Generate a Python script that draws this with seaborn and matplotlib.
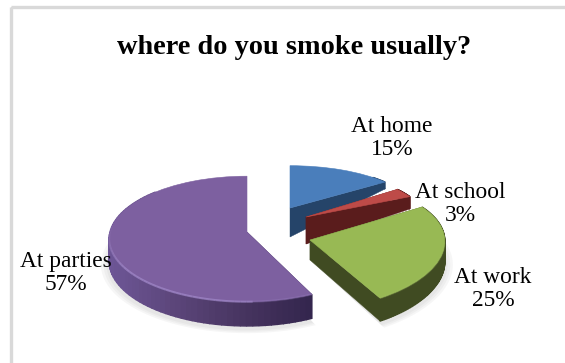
import numpy as np
import matplotlib
matplotlib.use("Agg")
import matplotlib.pyplot as plt
from matplotlib.patches import Rectangle
from matplotlib.transforms import Transform
import seaborn as sns

places = ["At home", "At school", "At work", "At parties"]
shares = [15, 3, 25, 57]
title_text = "where do you smoke usually?"

top_colors = ["#4a7ebb", "#be4b48", "#98b954", "#7d60a0"]
cut_colors = ["#254469", "#5a1c1c", "#404b22", "#33254d"]
rim_ramps = [
    ["#254469", "#254469"],
    ["#5a1c1c", "#5a1c1c"],
    ["#404b22", "#404b22"],
    ["#6d5696", "#5b4579", "#46345f", "#33254d"],
]
lip_colors = ["#5f8fc8", "#d06a66", "#a9c76c", "#a78fd0"]

# Placement of each slice on the page, in pixels.
slice_layout = [
    dict(apex=(290, 208), rx=125, ry=47, tilt=0, skew=0, depth=29, slope=-40),
    dict(apex=(306, 217), rx=120, ry=50, tilt=0, skew=0, depth=27, slope=-36),
    dict(apex=(310, 240), rx=133, ry=62, tilt=-9, skew=-7, depth=20, slope=-3),
    dict(apex=(247, 232), rx=137, ry=62, tilt=0, skew=0, depth=22, slope=-2),
]
label_spots = [(392, 138), (460, 204), (493, 289), (66, 273)]
PERSPECTIVE = 0.111


def project(x, y, apex, rx, ry, tilt, skew, **_):
    """Map the flat unit pie onto the receding top face of the solid."""
    s = 1 / (1 + PERSPECTIVE * y)
    px, py = x * s, y * s
    return apex[0] + rx * px + skew * py, apex[1] + tilt * px - ry * py


def face_depth(x, y, depth, slope, **_):
    s = 1 / (1 + PERSPECTIVE * y)
    return np.maximum(depth + slope * y * s, 0)


class TopFace(Transform):
    input_dims = output_dims = 2
    is_separable = False
    has_inverse = False

    def __init__(self, layout):
        super().__init__()
        self.layout = layout

    def transform_non_affine(self, values):
        values = np.asarray(values)
        px, py = project(values[:, 0], values[:, 1], **self.layout)
        return np.column_stack([px, py])


sns.set_theme(style="white")
plt.rcParams["font.family"] = ["Liberation Serif", "DejaVu Serif"]

fig = plt.figure(figsize=(5.65, 3.63), dpi=100, facecolor="white")
ax = fig.add_axes([0, 0, 1, 1])

wedges, _ = ax.pie(shares, startangle=90, counterclock=False, colors=top_colors)
ax.set_aspect("auto")
ax.set_xlim(0, 565)
ax.set_ylim(363, 0)
ax.axis("off")

# Page frame along the top and left.
ax.add_patch(Rectangle((11, 7), 600, 500, fill=False, ec="#d9d9d9", lw=2.4, zorder=0))

order = 0
for wedge, layout in zip(wedges, slice_layout):
    t1, t2 = sorted((wedge.theta1, wedge.theta2))
    angles = np.radians(np.linspace(t1, t2, 90))
    ux, uy = np.cos(angles), np.sin(angles)
    rx_screen, ry_screen = project(ux, uy, **layout)
    drop = face_depth(ux, uy, **layout)
    i = wedges.index(wedge)

    # Soft shadow on the page beneath the two large slices.
    if i >= 2:
        cx, cy = layout["apex"]
        for grow in (9, 6, 3):
            sx = cx + (rx_screen - cx) * (1 + grow / 150)
            sy = cy + (ry_screen - cy) * (1 + grow / 150) + drop + 3
            ax.fill(np.r_[cx, sx], np.r_[cy + layout["depth"], sy],
                    color="#8a8a8a", alpha=0.07, lw=0, zorder=1)

    order += 2
    ax0, ay0 = layout["apex"]
    apex_drop = layout["depth"]

    # Cut faces running in from the rim to the centre; a cut pointing straight
    # back is hidden behind the top face.
    for k in (0, -1):
        if uy[k] > 0.95:
            continue
        ax.fill([ax0, rx_screen[k], rx_screen[k], ax0],
                [ay0, ry_screen[k], ry_screen[k] + drop[k], ay0 + apex_drop],
                color=cut_colors[i], lw=0.3, zorder=order)

    # Curved rim, shaded from left to right across the page.
    ramp = sns.blend_palette(rim_ramps[i], 64)
    span = max(np.ptp(rx_screen), 1)
    for a in range(len(angles) - 1):
        if uy[a] > 0.7:
            continue
        mid = (rx_screen[a] + rx_screen[a + 1]) / 2
        col = ramp[int(np.clip((mid - rx_screen.min()) / span * 63, 0, 63))]
        ax.fill([rx_screen[a], rx_screen[a + 1], rx_screen[a + 1], rx_screen[a]],
                [ry_screen[a], ry_screen[a + 1],
                 ry_screen[a + 1] + drop[a + 1], ry_screen[a] + drop[a]],
                color=col, lw=1.0, zorder=order)

    # Flat top face from the pie itself.
    wedge.set_transform(TopFace(layout) + ax.transData)
    wedge.set_zorder(order + 1)
    wedge.set_edgecolor(top_colors[i])
    wedge.set_linewidth(0.4)
    wedge.set_clip_on(False)

    # Rounded lip catching the light on the front of the rim.
    for a in range(len(angles) - 1):
        if uy[a] < 0.15:
            fade = np.clip(0.15 - uy[a], 0, 0.7) * (0.9 if ux[a] < 0 else 0.35)
            ax.plot(rx_screen[a:a + 2], ry_screen[a:a + 2], color=lip_colors[i],
                    alpha=float(fade), lw=1.5, solid_capstyle="butt",
                    zorder=order + 1.5)

for name, value, (x, y) in zip(places, shares, label_spots):
    ax.text(x, y, f"{name}\n{value}%", ha="center", va="center", color="black",
            fontsize=16.8, linespacing=1.18, zorder=30)

ax.text(294, 47, title_text, ha="center", va="center", color="black",
        fontsize=20.3, fontweight="bold", zorder=30)

fig.savefig("out.png", dpi=100, facecolor="white")
